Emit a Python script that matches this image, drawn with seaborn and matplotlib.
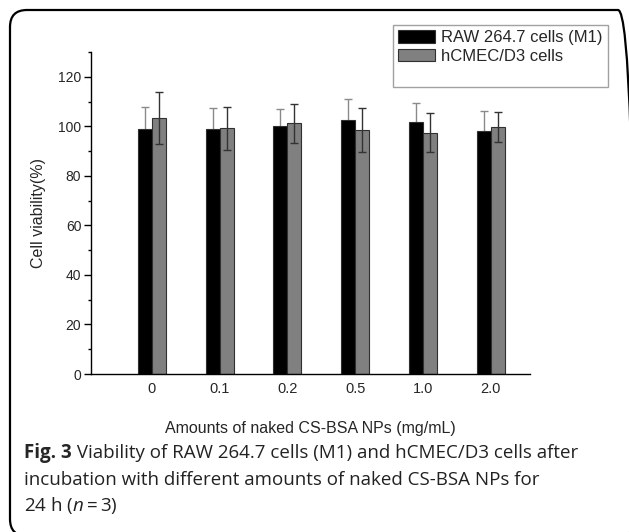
import numpy as np
import pandas as pd
import matplotlib
matplotlib.use('Agg')
import matplotlib.pyplot as plt
import seaborn as sns
from matplotlib.patches import Patch, FancyBboxPatch

# data
amounts = ['0', '0.1', '0.2', '0.5', '1.0', '2.0']
raw_mean = [99.1, 98.9, 100.3, 102.4, 101.6, 98.0]
raw_sd = [8.6, 8.6, 6.6, 8.7, 7.8, 8.0]
hc_mean = [103.2, 99.2, 101.2, 98.4, 97.4, 99.7]
hc_sd = [10.5, 8.7, 7.8, 8.9, 7.9, 6.2]
series = ['RAW 264.7 cells (M1)', 'hCMEC/D3 cells']
caption_lines = [
    ('Fig. 3', ' Viability of RAW 264.7 cells (M1) and hCMEC/D3 cells after'),
    ('', 'incubation with different amounts of naked CS-BSA NPs for'),
    ('', '24 h ($n = 3$)'),
]

df = pd.DataFrame({
    'amount': amounts * 2,
    'viability': raw_mean + hc_mean,
    'sd': raw_sd + hc_sd,
    'cell': [series[0]] * len(amounts) + [series[1]] * len(amounts),
})

sns.set_style('ticks')
plt.rcParams['font.family'] = ['Liberation Sans', 'DejaVu Sans']
plt.rcParams['mathtext.fontset'] = 'custom'
plt.rcParams['mathtext.it'] = 'Open Sans:italic'
plt.rcParams['mathtext.rm'] = 'Open Sans'

fig = plt.figure(figsize=(6.29, 5.32), dpi=100)
ax = fig.add_axes([91 / 629, 1 - 374 / 532, 439 / 629, 322 / 532])

colors = ['#000000', '#808080']
sns.barplot(data=df, x='amount', y='viability', hue='cell', palette=colors,
            width=0.414, errorbar=None, edgecolor='#303030', linewidth=0.8,
            saturation=1, ax=ax, legend=False)

# error bars: black bars hide their lower half, grey bars draw on top
err_colors = ['#8a8a8a', '#333333']
err_z = [0.5, 3]
bar_sets = list(ax.containers)
for i, cont in enumerate(bar_sets):
    sub = df[df['cell'] == series[i]]
    xs = [b.get_x() + b.get_width() / 2 for b in cont]
    ys = [b.get_height() for b in cont]
    ax.errorbar(xs, ys, yerr=sub['sd'].values, fmt='none', ecolor=err_colors[i],
                elinewidth=1.0, capsize=3, capthick=1.0, zorder=err_z[i])

ax.set_xlim(-0.9, 5.58)
ax.set_ylim(0, 130)
ax.set_yticks(np.arange(0, 121, 20))
ax.set_yticks(np.arange(10, 131, 20), minor=True)
ax.tick_params(axis='y', which='major', length=5, width=1, labelsize=10, pad=2, color='black')
ax.tick_params(axis='y', which='minor', length=2.5, width=1, color='black')
ax.tick_params(axis='x', length=0, labelsize=10.5, pad=6)
sns.despine(ax=ax)
for s in ['left', 'bottom']:
    ax.spines[s].set_linewidth(1.0)
    ax.spines[s].set_color('black')

ax.set_xlabel('Amounts of naked CS-BSA NPs (mg/mL)', fontsize=11.5)
ax.set_ylabel('Cell viability(%)', fontsize=11.5)
ax.xaxis.set_label_coords(0.5, -0.146)
ax.yaxis.set_label_coords(-0.102, 0.5)

handles = [Patch(facecolor=colors[0], edgecolor='#303030', linewidth=0.8),
           Patch(facecolor=colors[1], edgecolor='#303030', linewidth=0.8),
           Patch(facecolor='none', edgecolor='none')]
leg = fig.legend(handles, series + [' '], loc='upper left',
                 bbox_to_anchor=(393 / 629, 1 - 25 / 532), fontsize=12,
                 handlelength=2.2, handleheight=0.8, handletextpad=0.4,
                 labelspacing=0.2, borderpad=0.3, borderaxespad=0,
                 fancybox=False, frameon=True)
leg.get_frame().set_edgecolor('#8a8a8a')
leg.get_frame().set_linewidth(1.0)

# caption
ys = [453, 480, 506]
for (bold, rest), y in zip(caption_lines, ys):
    yf = 1 - y / 532
    t = fig.text(24 / 629, yf, bold, fontsize=13.5, fontweight='bold',
                 family='Open Sans', va='center', ha='left')
    if bold:
        fig.canvas.draw()
        bb = t.get_window_extent()
        x0 = bb.x1 / 629
    else:
        x0 = 24 / 629
    fig.text(x0, yf, rest, fontsize=13.5, family='Open Sans', color='#222222',
             va='center', ha='left')

# rounded outer frame, running off the canvas at right and bottom
frame = FancyBboxPatch((0.10, -0.04), 6.25, 5.26,
                       boxstyle='round,pad=0,rounding_size=0.17',
                       transform=fig.dpi_scale_trans, facecolor='none',
                       edgecolor='black', linewidth=1.6)
fig.add_artist(frame)

fig.savefig('out.png', dpi=100)
